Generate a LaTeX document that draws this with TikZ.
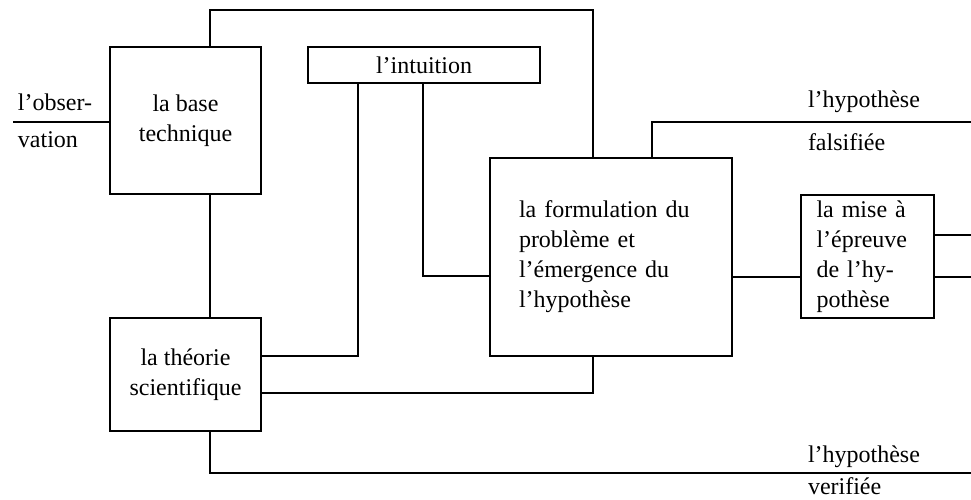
\documentclass[tikz,border=0pt]{standalone}
\usepackage{fontspec}
\setmainfont{Liberation Serif}
\usepackage{tikz}
\usetikzlibrary{positioning}

\begin{document}
\begin{tikzpicture}[x=0.5pt,y=-0.5pt,line width=1pt,
	every node/.style={font=\fontsize{12}{15}\selectfont}]
	\tikzstyle{box}=[draw, line width=1pt, inner sep=0pt, align=center]
	\tikzstyle{label}=[inner sep=0pt, anchor=west]
	\useasboundingbox (0,0) rectangle (971,499);
	
	\node[box, minimum width=75.5pt, minimum height=73.5pt] (base) at (185.5,120.5) {la base\\technique};
	\node[box, minimum width=116pt, minimum height=18pt]    (int)  at (424,65)      {l'intuition};
	\node[box, minimum width=75.5pt, minimum height=56.5pt] (theo) at (185.5,374.5) {la théorie\\scientifique};
	\node[box, minimum width=121pt, minimum height=99pt]    (form) at (611,257)     {};
	\node[box, minimum width=66.5pt, minimum height=61.5pt] (mise) at (867.5,256.5) {};
	\node[align=left, text width=92pt, inner sep=0pt] at (form.center)
		{la formulation du\\problème et\\l'émergence du\\l'hypothèse};
	\node[align=left, text width=47pt, inner sep=0pt] at ([xshift=-2pt]mise.center)
		{la mise à\\l'épreuve\\de l'hy-\\pothèse};
	
	% free ends and corners
	\coordinate (obs) at (13,122);
	\coordinate (c1)  at (210,10);
	\coordinate (c2)  at (593,10);
	\coordinate (k1)  at (358,356);
	\coordinate (k2)  at (423,276);
	\coordinate (k3)  at (593,393);
	\coordinate (k4)  at (652,122);
	\coordinate (fals) at (971,122);
	\coordinate (m1)  at (971,277);
	\coordinate (m2)  at (971,235);
	\coordinate (k6)  at (210,473);
	\coordinate (ver) at (971,473);
	
	\draw (obs) -- (obs -| base.west);
	\draw (base.north -| c1) -- (c1) -- (c2) -- (form.north -| c2);
	\draw (base.south -| c1) -- (theo.north -| c1);
	\draw (int.south -| k1) -- (k1) -- (k1 -| theo.east);
	\draw (int.south -| k2) -- (k2) -- (k2 -| form.west);
	\draw (k3 -| theo.east) -- (k3) -- (form.south -| k3);
	\draw (form.north -| k4) -- (k4) -- (fals);
	\draw (form.east |- m1) -- (mise.west |- m1);
	\draw (mise.east |- m1) -- (m1);
	\draw (mise.east |- m2) -- (m2);
	\draw (theo.south -| c1) -- (k6) -- (ver);
	
	\node[label] (obs1) at (17,102) {l'obser-};
	\node[label] (obs2) at (17,140) {vation};
	\node[label] (fal1) at (807,102) {l'hypothèse};
	\node[label] (fal2) at (807,142) {falsifiée};
	\node[label] (ver1) at (807,457) {l'hypothèse};
	\node[label] (ver2) at (807,486) {verifiée};
\end{tikzpicture}
\end{document}
